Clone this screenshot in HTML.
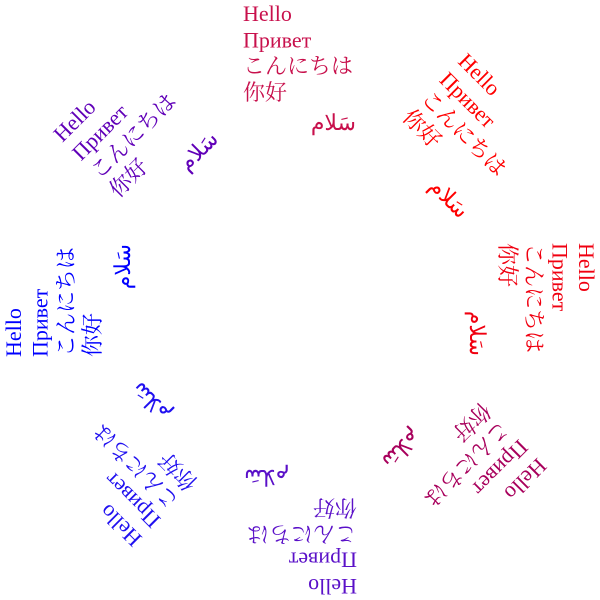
<!DOCTYPE html>
<html><head><meta charset="utf-8"><style>
html,body{margin:0;padding:0;background:#fff;width:600px;height:600px;overflow:hidden}
text{font-family:"Liberation Serif","Noto Serif CJK SC","Noto Sans CJK JP",serif;font-size:22px}
</style></head><body>
<svg id="chart" width="600" height="600" viewBox="0 0 600 600" xmlns="http://www.w3.org/2000/svg"></svg>
<script>
const angles = [0, 45, 90, 135, 180, 225, 270, 315];
const colors = ["#c8104c", "#ff0000", "#f00010", "#a8005c", "#5a10c8", "#2010f0", "#0000ff", "#6000b8"];
const lines = ["Hello", "Привет", "こんにちは", "你好"];
const arabic = "سَلام";
const svg = document.getElementById('chart');
const NS = "http://www.w3.org/2000/svg";
angles.forEach((a, i) => {
  const g = document.createElementNS(NS, 'g');
  
  
  g.setAttribute('transform', 'rotate(' + a + ' 300 300)');
  g.setAttribute('fill', colors[i]);
  lines.forEach((s, j) => {
    const t = document.createElementNS(NS, 'text');
    
    
    t.setAttribute('x', 243);
    t.setAttribute('y', 21 + j * 26.3);
    t.textContent = s;
    g.appendChild(t);
  });
  const ar = document.createElementNS(NS, 'text');
  
  
  ar.setAttribute('x', 356);
  ar.setAttribute('y', 130);
  ar.setAttribute('text-anchor', 'end');
  ar.textContent = arabic;
  g.appendChild(ar);
  svg.appendChild(g);
});
</script>
</body></html>
